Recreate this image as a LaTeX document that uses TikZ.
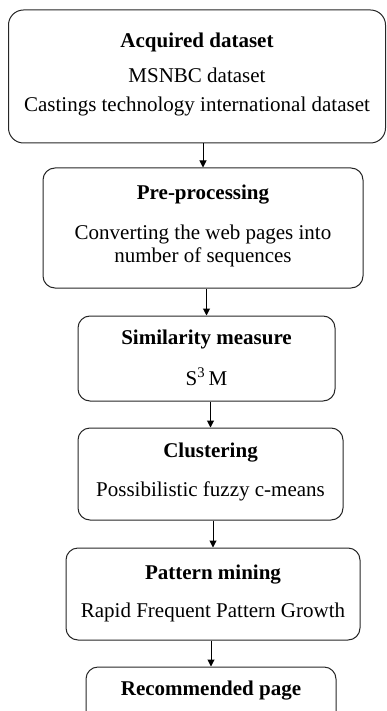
\documentclass[tikz,border=0pt]{standalone}
\usepackage{fontspec}
\setmainfont{Liberation Serif}
\usetikzlibrary{arrows.meta}
\newcommand{\dropdepth}[1]{\rule[-#1]{0pt}{#1}}

\begin{document}
\begin{tikzpicture}[x=1pt,y=-1pt,line width=1pt,>={Triangle[length=7pt,width=7pt]}]
\tikzset{stagebox/.style={draw=black!85,rounded corners=12pt,align=center,inner sep=0pt,
  font=\fontsize{21}{23}\selectfont}}
\useasboundingbox (0,0) rectangle (386,711);
% ---------- stages, top to bottom ----------
\node[stagebox,rounded corners=15pt,minimum width=377pt,minimum height=133pt] (acquired) at (197,76.5)
  {\textbf{Acquired dataset}\\[12pt] MSNBC dataset\\[6pt] Castings technology international dataset\dropdepth{9pt}};
\node[stagebox,minimum width=320pt,minimum height=120pt] (preproc) at (203,228)
  {\textbf{Pre-processing}\\[17pt] Converting the web pages into\\ number of sequences\dropdepth{8pt}};
\node[stagebox,minimum width=257pt,minimum height=85pt] (similar) at (206.5,358.5)
  {\textbf{Similarity measure}\\[18pt] S\textsuperscript{3}\,M\dropdepth{2pt}};
\node[stagebox,minimum width=265pt,minimum height=92pt] (cluster) at (210.5,474)
  {\textbf{Clustering}\\[16pt] Possibilistic fuzzy c-means\dropdepth{8pt}};
\node[stagebox,minimum width=294pt,minimum height=92pt] (patmine) at (213,594)
  {\textbf{Pattern mining}\\[15pt] Rapid Frequent Pattern Growth\dropdepth{5pt}};
\node[stagebox,minimum width=250pt,minimum height=73pt] (recpage) at (211,703.5)
  {\textbf{Recommended page}\dropdepth{30pt}};  % runs off the bottom edge
% ---------- arrows ----------
\draw[->] (acquired.south -| preproc.north) -- (preproc.north);
\draw[->] (preproc.south -| similar.north) -- (similar.north);
\draw[->] (similar.south -| cluster.north) -- (cluster.north);
\draw[->] (cluster.south -| patmine.north) -- (patmine.north);
\draw[->] (patmine.south -| recpage.north) -- (recpage.north);
\end{tikzpicture}
\end{document}
